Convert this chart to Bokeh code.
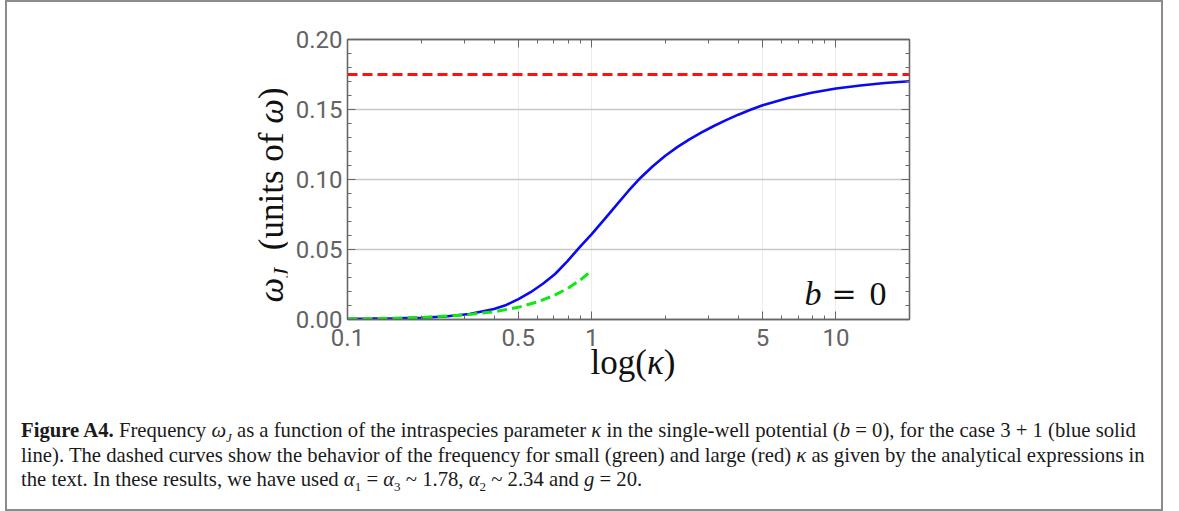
import math
from bokeh.plotting import figure
from bokeh.layouts import column, row
from bokeh.models import (FixedTicker, LinearAxis, LogAxis, Label, Div)
from bokeh.embed import file_html
from bokeh.resources import INLINE

# ---------------- data ----------------
kappa_blue = [0.1, 0.126, 0.158, 0.2, 0.251, 0.316, 0.398, 0.447, 0.501,
              0.562, 0.631, 0.708, 0.794, 0.891, 1.0, 1.122, 1.259, 1.413,
              1.585, 1.778, 1.995, 2.239, 2.512, 2.818, 3.162, 3.548, 3.981,
              4.467, 5.012, 6.31, 7.943, 10.0, 12.59, 15.85, 20.0]
omega_blue = [0.0005, 0.0006, 0.0008, 0.0012, 0.0021, 0.0039, 0.0075, 0.0104,
              0.0145, 0.0195, 0.0255, 0.0325, 0.0415, 0.0515, 0.061, 0.0711,
              0.0815, 0.0918, 0.1013, 0.1095, 0.1168, 0.1231, 0.1286, 0.1336,
              0.1382, 0.1424, 0.1463, 0.1498, 0.1530, 0.158, 0.162, 0.165,
              0.1672, 0.1689, 0.1702]
kappa_green = [0.1, 0.2, 0.3, 0.4, 0.5, 0.6, 0.7, 0.8, 0.9, 1.0]
omega_green = [0.0003, 0.0014, 0.0032, 0.0056, 0.0087, 0.0126, 0.0171, 0.0224,
               0.0283, 0.035]
kappa_red = [0.1, 20.0]
omega_red = [0.175, 0.175]

x_ticks = [0.1, 0.5, 1, 5, 10]
x_tick_labels = ["0.1", "0.5", "1", "5", "10"]
x_minor = [0.2, 0.3, 0.4, 0.6, 0.7, 0.8, 0.9, 2, 3, 4, 6, 7, 8, 9, 20]
y_ticks = [0.0, 0.05, 0.10, 0.15, 0.20]
y_tick_labels = ["0.00", "0.05", "0.10", "0.15", "0.20"]
y_minor = [0.01, 0.02, 0.03, 0.04, 0.06, 0.07, 0.08, 0.09, 0.11, 0.12, 0.13,
           0.14, 0.16, 0.17, 0.18, 0.19]

# ---------------- figure ----------------
YDIV_W = 280
W, H = 874, 358
p = figure(width=W, height=H, x_axis_type="log", x_range=(0.1, 20),
           y_range=(0.0, 0.2), output_backend="svg", toolbar_location=None,
           min_border_left=60, min_border_right=252, min_border_top=37,
           min_border_bottom=41, margin=0)
p.background_fill_color = "white"
p.border_fill_color = "white"
p.outline_line_color = "#666666"
p.outline_line_width = 1.3

AX = "#666666"
TL = "#636363"

def style_axis(ax, labels=True, standoff=5):
    ax.axis_line_color = AX
    ax.axis_line_width = 1.3
    ax.major_tick_line_color = AX
    ax.minor_tick_line_color = AX
    ax.major_tick_in = 8
    ax.major_tick_out = 0
    ax.minor_tick_in = 4
    ax.minor_tick_out = 0
    ax.major_label_standoff = standoff
    if labels:
        ax.major_label_text_font = "Roboto"
        ax.major_label_text_font_size = "24px"
        ax.major_label_text_color = TL
    else:
        ax.major_label_text_color = None
        ax.major_label_text_font_size = "2px"

p.xaxis.ticker = FixedTicker(ticks=x_ticks, minor_ticks=x_minor)
p.yaxis.ticker = FixedTicker(ticks=y_ticks, minor_ticks=y_minor)
p.xaxis.major_label_overrides = {t: s for t, s in zip(x_ticks, x_tick_labels)}
p.yaxis.major_label_overrides = {t: s for t, s in zip(y_ticks, y_tick_labels)}
style_axis(p.xaxis[0], standoff=9)
style_axis(p.yaxis[0], standoff=5)

top_ax = LogAxis(ticker=FixedTicker(ticks=x_ticks, minor_ticks=x_minor))
style_axis(top_ax, labels=False)
p.add_layout(top_ax, "above")
right_ax = LinearAxis(ticker=FixedTicker(ticks=y_ticks, minor_ticks=y_minor))
style_axis(right_ax, labels=False)
p.add_layout(right_ax, "right")

p.ygrid.ticker = FixedTicker(ticks=[0.05, 0.10, 0.15])
p.ygrid.grid_line_color = "#c8c8c8"
p.ygrid.grid_line_width = 1.5
p.xgrid.ticker = FixedTicker(ticks=x_ticks)
p.xgrid.grid_line_color = "#ececec"
p.xgrid.grid_line_width = 1

# curves
p.line(kappa_red, omega_red, line_color="#ff1010", line_width=2.8,
       line_dash="10 5")
p.line(kappa_blue, omega_blue, line_color="#0a0af0", line_width=2.6)
p.line(kappa_green, omega_green, line_color="#14e614", line_width=3,
       line_dash="10 5")

# ---- "b = 0" annotation, positioned through the plot's own scales ----
FR_L, FR_R, FR_T, FR_B = 347.0, 909.0, 39.0, 319.0
def dx(px):
    return 0.1 * 10 ** ((px - FR_L) / (FR_R - FR_L) * math.log10(20 / 0.1))
def dy(py):
    return (FR_B - py) / (FR_B - FR_T) * 0.2

def lab(text, px, py, size, italic=False, font="Liberation Serif"):
    p.add_layout(Label(x=dx(px), y=dy(py), text=text, text_font=font,
                       text_font_size=f"{size}px",
                       text_font_style="italic" if italic else "normal",
                       text_color="#111111", text_align="left",
                       text_baseline="alphabetic"))

lab("b", 804, 293, 34, italic=True)
lab("=", 831, 293, 30, font="DejaVu Serif")
lab("0", 869, 293, 34)

# ---------------- y label (rotated HTML) ----------------
ylabel_html = (
    "<div style='position:relative; width:%dpx; height:%dpx;'>"
    "<div style=\"position:absolute; left:264px; top:193px; "
    "transform:translate(-50%%,-50%%) rotate(-90deg); white-space:nowrap; "
    "font-family:'Liberation Serif'; font-size:35px; line-height:35px; "
    "color:#111;\">"
    "<i>ω</i><sub style='font-size:23px; line-height:0; vertical-align:-6px;'>"
    "<i>J</i></sub>&nbsp;&nbsp;(units of <i>ω</i>)</div></div>"
) % (YDIV_W, H)
ydiv = Div(text=ylabel_html, width=YDIV_W, height=H, margin=0,
           styles={"overflow": "visible"})

# ---------------- x label + caption ----------------
SUB = "<sub style='font-size:13px; line-height:0;'>%s</sub>"
CAP_H = 149
caption_html = (
    "<div style='position:relative; width:1154px; height:%dpx;'>"
    "<div style=\"position:absolute; left:626px; top:-14px; "
    "transform:translateX(-50%%); white-space:nowrap; "
    "font-family:'Liberation Serif'; font-size:35px; line-height:34px; "
    "color:#111;\">log(<i>κ</i>)</div>"
    "<div style=\"position:absolute; left:14px; top:58px; "
    "font-family:'Liberation Serif'; font-size:20.7px; line-height:24.5px; "
    "color:#1a1a1a; white-space:nowrap;\">"
    "<b>Figure A4.</b> Frequency <i>ω</i>" + (SUB % "<i>J</i>") +
    " as a function of the intraspecies parameter <i>κ</i> in the single-well "
    "potential (<i>b</i> = 0), for the case 3 + 1 (blue solid<br>"
    "line). The dashed curves show the behavior of the frequency for small "
    "(green) and large (red) <i>κ</i> as given by the analytical expressions in<br>"
    "the text. In these results, we have used <i>α</i>" + (SUB % "1") + " = "
    "<i>α</i>" + (SUB % "3") + " ~ 1.78, <i>α</i>" + (SUB % "2") +
    " ~ 2.34 and <i>g</i> = 20."
    "</div></div>"
) % CAP_H
cap = Div(text=caption_html, width=YDIV_W + W, height=CAP_H, margin=0,
          styles={"overflow": "visible"})

layout = column(row(ydiv, p, margin=0), cap, margin=0,
                styles={"border": "2px solid #8c8c8c", "margin-left": "5px"})

open("out.html", "w").write(file_html(layout, INLINE))
